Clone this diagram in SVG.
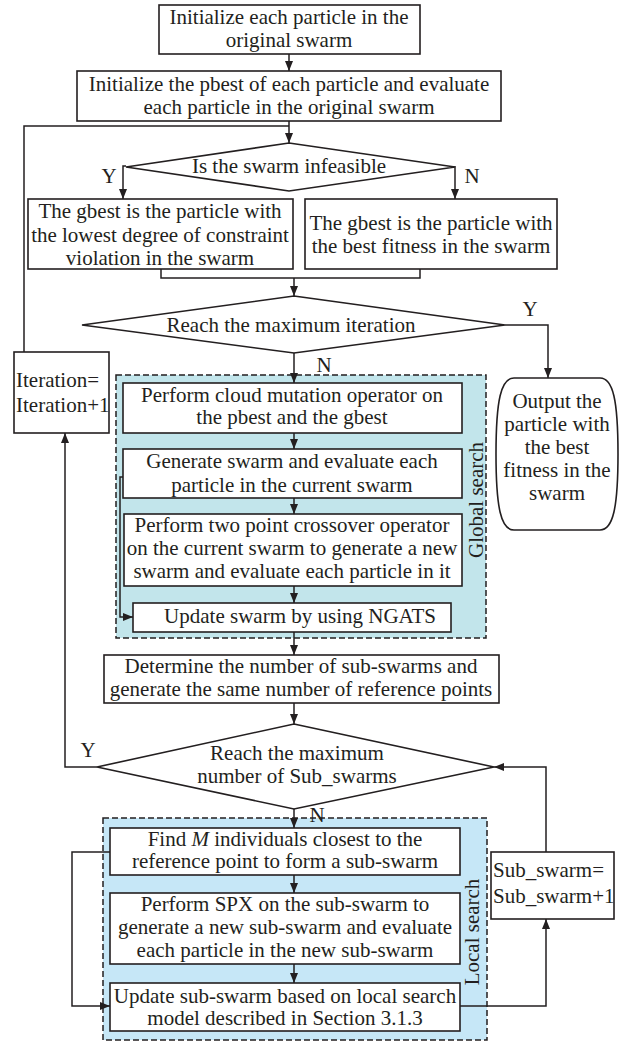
<svg xmlns="http://www.w3.org/2000/svg" width="627" height="1043" viewBox="0 0 627 1043">
<style>
.b{fill:#fff;stroke:#231f20;stroke-width:1.6}
.l{fill:none;stroke:#231f20;stroke-width:1.5}
.a{fill:none;stroke:#231f20;stroke-width:1.5;marker-end:url(#ah)}
.g{fill:#c2e5eb;stroke:#231f20;stroke-width:1.5;stroke-dasharray:6,3}
.ls{fill:#c6e7f7;stroke:#231f20;stroke-width:1.5;stroke-dasharray:6,3}
text{font-family:"Liberation Serif","Times New Roman",serif;font-size:21px;fill:#231f20}
.m{text-anchor:middle}
</style>
<defs>
<marker id="ah" markerWidth="10" markerHeight="8" refX="10" refY="4" orient="auto" markerUnits="userSpaceOnUse"><path d="M0,0 L10,4 L0,8 z" fill="#231f20"/></marker>
</defs>
<rect width="627" height="1043" fill="#fff"/>

<g id="global-search">
<rect class="g" x="116" y="375" width="370" height="263"/>
<text transform="translate(483,500) rotate(-90)" class="m">Global search</text>
</g>
<g id="local-search">
<rect class="ls" x="103" y="818" width="384" height="222"/>
<text transform="translate(479,932) rotate(-90)" class="m">Local search</text>
</g>

<g id="connectors">
<path class="a" d="M289,54 V71"/>
<path class="a" d="M289,121 V143"/>
<path class="l" d="M24,352 V126 H289"/>
<path class="a" d="M126,166 H123 V199"/>
<path class="a" d="M455,166 V199"/>
<path class="l" d="M161,269 V278 H420 V269"/>
<path class="a" d="M294,278 V296"/>
<path class="a" d="M505,325 H548 V378"/>
<path class="a" d="M294,353 V383"/>
<path class="a" d="M294,433 V449"/>
<path class="a" d="M294,498 V514"/>
<path class="a" d="M294,586 V603"/>
<path class="a" d="M123,477 H120 V617 H133"/>
<path class="a" d="M294,632 V655"/>
<path class="a" d="M294,703 V724"/>
<path class="a" d="M97,767 H65 V433"/>
<path class="a" d="M294,809 V828"/>
<path class="a" d="M294,875 V893"/>
<path class="a" d="M294,964 V983"/>
<path class="a" d="M110,852 H72 V1006 H110"/>
<path class="a" d="M460,1006 H546 V919"/>
<path class="a" d="M546,852 V767 H494"/>
</g>

<g id="n1">
<rect class="b" x="159" y="5" width="261" height="49"/>
<text class="m" x="289" y="24">Initialize each particle in the</text>
<text class="m" x="289" y="47">original swarm</text>
</g>
<g id="n2">
<rect class="b" x="77" y="71" width="424" height="50"/>
<text class="m" x="289" y="91">Initialize the pbest of  each particle and evaluate</text>
<text class="m" x="289" y="114">each particle in the original swarm</text>
</g>
<g id="d1">
<polygon class="b" points="289,143 455,167 289,191 126,167"/>
<text class="m" x="289" y="173">Is the swarm infeasible</text>
<text class="m" x="109" y="183">Y</text>
<text class="m" x="472" y="183">N</text>
</g>
<g id="n3">
<rect class="b" x="28" y="199" width="265" height="70"/>
<text class="m" x="160" y="218">The gbest is the particle with</text>
<text class="m" x="160" y="242">the lowest degree of constraint</text>
<text class="m" x="160" y="265">violation in the swarm</text>
</g>
<g id="n4">
<rect class="b" x="305" y="199" width="252" height="70"/>
<text class="m" x="431" y="230">The gbest is the particle with</text>
<text class="m" x="431" y="253">the best fitness in the swarm</text>
</g>
<g id="d2">
<polygon class="b" points="294,296 505,325 294,353 82,325"/>
<text class="m" x="291" y="332">Reach the maximum iteration</text>
<text class="m" x="530" y="316">Y</text>
<text class="m" x="324" y="372">N</text>
</g>
<g id="n-iter">
<rect class="b" x="14" y="352" width="95" height="81"/>
<text x="16" y="387">Iteration=</text>
<text x="16" y="412">Iteration+1</text>
</g>
<g id="n-out">
<path class="b" d="M514,378 H600 C613,378 618,400 618,454 C618,508 613,530 600,530 H514 C501,530 496,508 496,454 C496,400 501,378 514,378 Z"/>
<text class="m" x="557" y="408">Output the</text>
<text class="m" x="557" y="431">particle with</text>
<text class="m" x="557" y="454">the best</text>
<text class="m" x="557" y="477">fitness in the</text>
<text class="m" x="557" y="500">swarm</text>
</g>
<g id="n5">
<rect class="b" x="123" y="383" width="339" height="50"/>
<text class="m" x="292" y="402">Perform cloud mutation operator on</text>
<text class="m" x="292" y="424">the pbest  and the gbest</text>
</g>
<g id="n6">
<rect class="b" x="123" y="449" width="339" height="49"/>
<text class="m" x="292" y="468">Generate swarm and evaluate each</text>
<text class="m" x="292" y="492">particle in the current swarm</text>
</g>
<g id="n7">
<rect class="b" x="124" y="514" width="338" height="72"/>
<text class="m" x="292" y="532">Perform two point crossover operator</text>
<text class="m" x="292" y="555">on the current swarm to generate a new</text>
<text class="m" x="292" y="578">swarm and  evaluate each particle in it</text>
</g>
<g id="n8">
<rect class="b" x="133" y="603" width="318" height="29"/>
<text class="m" x="300" y="623">Update swarm by using NGATS</text>
</g>
<g id="n9">
<rect class="b" x="104" y="655" width="395" height="48"/>
<text class="m" x="301" y="673">Determine the number of sub-swarms and</text>
<text class="m" x="301" y="696">generate the same number of reference points</text>
</g>
<g id="d3">
<polygon class="b" points="294,724 494,767 294,809 97,767"/>
<text class="m" x="297" y="760">Reach the maximum</text>
<text class="m" x="297" y="783">number of Sub_swarms</text>
<text class="m" x="88" y="757">Y</text>
<text class="m" x="317" y="822" font-size="19">N</text>
</g>
<g id="n10">
<rect class="b" x="110" y="828" width="350" height="47"/>
<text class="m" x="285" y="846">Find <tspan font-style="italic">M</tspan> individuals closest to the</text>
<text class="m" x="285" y="868">reference point to form a sub-swarm</text>
</g>
<g id="n11">
<rect class="b" x="110" y="893" width="350" height="71"/>
<text class="m" x="285" y="911">Perform SPX on the sub-swarm to</text>
<text class="m" x="285" y="934">generate a new sub-swarm and evaluate</text>
<text class="m" x="285" y="957">each particle in the new sub-swarm</text>
</g>
<g id="n12">
<rect class="b" x="110" y="983" width="350" height="48"/>
<text class="m" x="285" y="1003">Update sub-swarm based on local search</text>
<text class="m" x="285" y="1025">model described in Section 3.1.3</text>
</g>
<g id="n-sub">
<rect class="b" x="491" y="852" width="123" height="67"/>
<text x="493" y="877">Sub_swarm=</text>
<text x="493" y="903">Sub_swarm+1</text>
</g>
</svg>
